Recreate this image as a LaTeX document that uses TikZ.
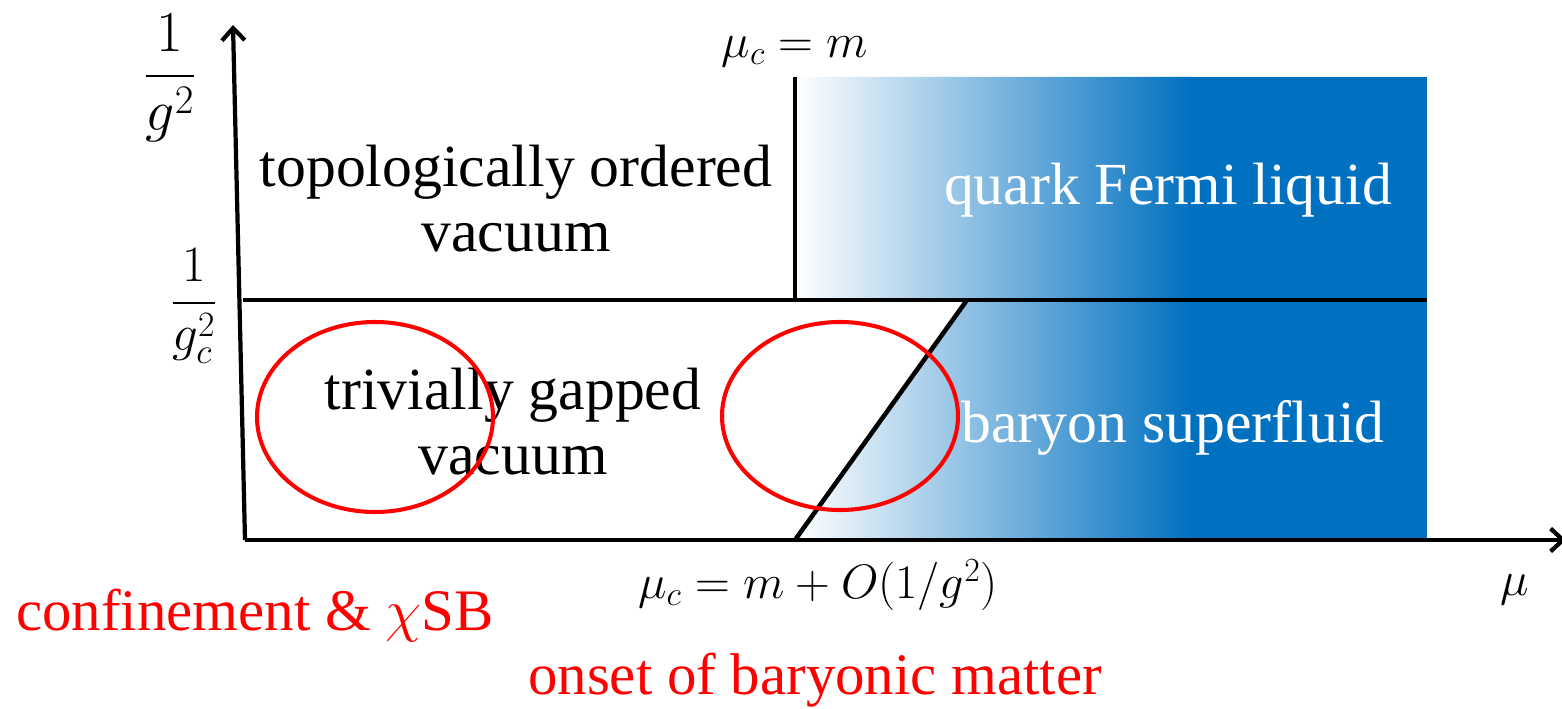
\documentclass[tikz,border=0pt]{standalone}
\usepackage{fix-cm}
\usepackage{fontspec}
\setmainfont{Liberation Serif}
\usepackage{amsmath}
\usetikzlibrary{arrows.meta}
\definecolor{fermiblue}{HTML}{0070C0}
\definecolor{markred}{HTML}{FF0000}

\begin{document}
\begin{tikzpicture}[x=0.02cm, y=-0.02cm,
  axis/.style={line width=2.4pt, -{Straight Barb[length=7pt,width=13pt]}},
  border/.style={line width=2.6pt},
  phase/.style={font=\fontsize{34}{37}\selectfont, align=center},
  lbl/.style={font=\fontsize{27.5}{30}\selectfont},
  frac/.style={font=\fontsize{33}{36}\selectfont, inner sep=0pt},
  ring/.style={draw=markred, line width=2.3pt},
  note/.style={font=\fontsize{33.5}{40}\selectfont, text=markred}]
  \useasboundingbox (0,0) rectangle (1562,709);
  % corners of the diagram
  \coordinate (O) at (245,540);
  \coordinate (Ytop) at (233,25);
  \coordinate (Xend) at (1566,540);
  \coordinate (Lcrit) at (243,300);
  \coordinate (Rcrit) at (1427,300);
  \coordinate (Mtop) at (795,77);
  \coordinate (Mmid) at (795,300);
  \coordinate (Dtop) at (967,300);
  \coordinate (Dbot) at (795,540);
  % blue region
  \begin{scope}
    \clip (Mtop) -- (1427,77) -- (1427,540) -- (Dbot) -- (Dtop) -- (Mmid) -- cycle;
    \shade[left color=white, right color=fermiblue] (795,77) rectangle (1192,540);
    \fill[fermiblue] (1190,77) rectangle (1427,540);
  \end{scope}
  % axes and phase boundaries
  \draw[axis] (O) -- (Ytop);
  \draw[axis] (O) -- (Xend);
  \draw[border] (Lcrit) -- (Rcrit);
  \draw[border] (Mtop) -- (Mmid);
  \draw[border] (Dbot) -- (Dtop);
  % axis labels
  \node[frac] (ylab) at (170,78) {$\dfrac{1}{g^2}$};
  \node[frac, font=\fontsize{29}{32}\selectfont] (gclab) at (194,306) {$\dfrac{1}{g_c^2}$};
  \node[lbl] (mutop) at (795,52) {$\mu_c = m$};
  \node[lbl] (mubot) at (818,585) {$\mu_c = m + O(1/g^2)$};
  \node[lbl] (xlab) at (1515,590) {$\mu$};
  % phases
  \node[phase] (topo) at (516,199) {topologically ordered\\vacuum};
  \node[phase] (triv) at (513,422) {trivially gapped\\vacuum};
  \node[phase, text=white] (fermi) at (1168,190) {quark Fermi liquid};
  \node[phase, text=white] (bsf) at (1173,428) {baryon superfluid};
  % highlighted regions
  \draw[ring] (375,417) ellipse [x radius=118, y radius=95];
  \draw[ring] (840,416) ellipse [x radius=118, y radius=94];
  \node[note, anchor=west] (conf) at (10,615) {confinement \& $\chi$SB};
  \node[note] (onset) at (815,680) {onset of baryonic matter};
\end{tikzpicture}
\end{document}
